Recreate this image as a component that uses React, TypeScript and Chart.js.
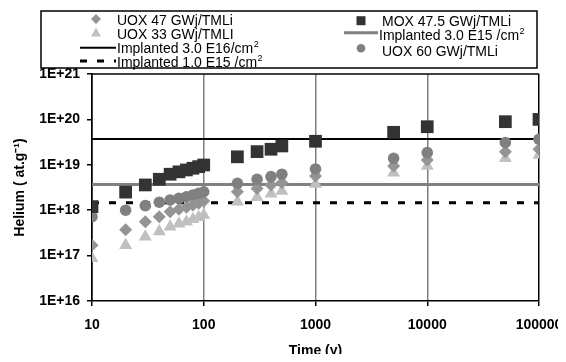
import React, { useEffect, useRef } from 'react';
import { Chart, registerables } from 'chart.js';

Chart.register(...registerables);

// ---- data ----
const times = [10, 20, 30, 40, 50, 60, 70, 80, 90, 100, 200, 300, 400, 500, 1000, 5000, 10000, 50000, 100000];
const uox47 = [1.7e17, 3.7e17, 5.6e17, 7.2e17, 9.3e17, 1.05e18, 1.16e18, 1.3e18, 1.42e18, 1.6e18, 2.55e18, 3.0e18, 3.6e18, 4.0e18, 5.7e18, 9.4e18, 1.28e19, 1.95e19, 2.2e19];
const uox33 = [8.7e16, 1.7e17, 2.6e17, 3.4e17, 4.3e17, 5.0e17, 5.6e17, 6.3e17, 7.0e17, 7.8e17, 1.54e18, 1.92e18, 2.3e18, 2.65e18, 3.8e18, 6.7e18, 9.4e18, 1.39e19, 1.64e19];
const mox475 = [1.2e18, 2.5e18, 3.6e18, 4.8e18, 6.2e18, 7.0e18, 7.7e18, 8.4e18, 9.1e18, 9.9e18, 1.5e19, 1.95e19, 2.2e19, 2.6e19, 3.3e19, 5.2e19, 6.9e19, 8.9e19, 1.0e20];
const uox60 = [7.2e17, 1.0e18, 1.26e18, 1.5e18, 1.68e18, 1.83e18, 1.98e18, 2.16e18, 2.36e18, 2.55e18, 3.9e18, 4.8e18, 5.5e18, 6.2e18, 8.1e18, 1.39e19, 1.85e19, 3.1e19, 3.65e19];
const implanted30E16 = 3.7e19;
const implanted30E15 = 3.7e18;
const implanted10E15 = 1.45e18;
const lineSpan = [10, 100000];
const xTickValues = [10, 100, 1000, 10000, 100000];
const yTickExponents = [16, 17, 18, 19, 20, 21];

const FONT = "'Liberation Sans', Arial, Helvetica, sans-serif";

const pts = (vals: number[]) => times.map((t, i) => ({ x: t, y: vals[i] }));
const hline = (v: number) => lineSpan.map((t) => ({ x: t, y: v }));

// legend layout: [datasetIndex, markerX, markerY, textX, textBaseline]
const legendLayout: Array<[number, number, number, number, number]> = [
  [2, 96, 19, 117, 25],
  [3, 96, 33, 117, 39],
  [4, 98, 47.7, 117, 53],
  [6, 98, 61, 117, 66.5],
  [0, 361, 20.7, 382, 26],
  [5, 361, 32.7, 379, 39.5],
  [1, 361, 48.3, 382, 55.5],
];

function drawMarker(ctx: CanvasRenderingContext2D, style: string, x: number, y: number, color: string) {
  ctx.fillStyle = color;
  ctx.beginPath();
  if (style === 'rect') {
    ctx.rect(x - 4.5, y - 4.5, 9, 9);
  } else if (style === 'circle') {
    ctx.arc(x, y, 4.3, 0, Math.PI * 2);
  } else if (style === 'rectRot') {
    ctx.moveTo(x, y - 5);
    ctx.lineTo(x + 5, y);
    ctx.lineTo(x, y + 5);
    ctx.lineTo(x - 5, y);
    ctx.closePath();
  } else if (style === 'triangle') {
    ctx.moveTo(x, y - 5.5);
    ctx.lineTo(x + 5, y + 3.5);
    ctx.lineTo(x - 5, y + 3.5);
    ctx.closePath();
  }
  ctx.fill();
}

function drawLabel(ctx: CanvasRenderingContext2D, text: string, x: number, y: number) {
  ctx.fillStyle = '#000';
  ctx.textBaseline = 'alphabetic';
  ctx.textAlign = 'left';
  if (text.endsWith('²')) {
    const main = text.slice(0, -1);
    ctx.font = `14px ${FONT}`;
    ctx.fillText(main, x, y);
    const w = ctx.measureText(main).width;
    ctx.font = `9px ${FONT}`;
    ctx.fillText('2', x + w + 0.5, y - 6);
  } else {
    ctx.font = `14px ${FONT}`;
    ctx.fillText(text, x, y);
  }
}

const boxLegendPlugin = {
  id: 'boxLegend',
  afterDraw(chart: any) {
    const ctx: CanvasRenderingContext2D = chart.ctx;
    const { left, right, top } = chart.chartArea;
    ctx.save();
    // top border of plot area
    ctx.strokeStyle = '#000';
    ctx.lineWidth = 1.5;
    ctx.beginPath();
    ctx.moveTo(left, top);
    ctx.lineTo(right, top);
    ctx.stroke();
    // legend box
    ctx.strokeRect(41, 11, 496, 57);
    for (const [di, mx, my, tx, ty] of legendLayout) {
      const ds = chart.data.datasets[di];
      if (ds.showLine) {
        ctx.strokeStyle = ds.borderColor;
        ctx.lineWidth = ds.borderWidth;
        ctx.setLineDash(ds.borderDash || []);
        ctx.beginPath();
        const half = di === 5 ? 17 : 18;
        ctx.moveTo(mx - half, my);
        ctx.lineTo(mx + half, my);
        ctx.stroke();
        ctx.setLineDash([]);
      } else {
        drawMarker(ctx, ds.pointStyle, mx, my, ds.backgroundColor);
      }
      drawLabel(ctx, ds.label, tx, ty);
    }
    ctx.restore();
  },
};

export default function App() {
  const ref = useRef<HTMLCanvasElement>(null);

  useEffect(() => {
    Chart.defaults.font.family = FONT;
    const chart = new Chart(ref.current as HTMLCanvasElement, {
      type: 'scatter',
      data: {
        datasets: [
          {
            label: 'MOX 47.5 GWj/TMLi',
            data: pts(mox475),
            pointStyle: 'rect',
            pointRadius: 9,
            backgroundColor: '#333333',
            borderColor: '#333333',
            borderWidth: 0,
            showLine: false,
          },
          {
            label: 'UOX 60 GWj/TMLi',
            data: pts(uox60),
            pointStyle: 'circle',
            pointRadius: 5.8,
            backgroundColor: '#808080',
            borderColor: '#808080',
            borderWidth: 0,
            showLine: false,
          },
          {
            label: 'UOX 47 GWj/TMLi',
            data: pts(uox47),
            pointStyle: 'rectRot',
            pointRadius: 6.5,
            backgroundColor: '#949494',
            borderColor: '#949494',
            borderWidth: 0,
            showLine: false,
          },
          {
            label: 'UOX 33 GWj/TMLI',
            data: pts(uox33),
            pointStyle: 'triangle',
            pointRadius: 7.5,
            backgroundColor: '#c0c0c0',
            borderColor: '#c0c0c0',
            borderWidth: 0,
            showLine: false,
          },
          {
            label: 'Implanted 3.0 E16/cm²',
            data: hline(implanted30E16),
            showLine: true,
            pointRadius: 0,
            borderColor: '#000000',
            backgroundColor: '#000000',
            borderWidth: 2,
          },
          {
            label: 'Implanted 3.0 E15 /cm²',
            data: hline(implanted30E15),
            showLine: true,
            pointRadius: 0,
            borderColor: '#808080',
            backgroundColor: '#808080',
            borderWidth: 3,
          },
          {
            label: 'Implanted 1.0 E15 /cm²',
            data: hline(implanted10E15),
            showLine: true,
            pointRadius: 0,
            borderColor: '#000000',
            backgroundColor: '#000000',
            borderWidth: 3,
            borderDash: [7, 10],
          },
        ] as any,
      },
      options: {
        animation: false,
        responsive: false,
        devicePixelRatio: 1,
        events: [],
        layout: { padding: { top: 74, right: 27, bottom: 0, left: 0 } },
        plugins: {
          legend: { display: false },
          tooltip: { enabled: false },
        },
        scales: {
          x: {
            type: 'logarithmic',
            position: 'bottom',
            min: 10,
            max: 100000,
            afterBuildTicks: (s: any) => {
              s.ticks = xTickValues.map((v) => ({ value: v }));
            },
            afterFit: (s: any) => {
              s.height = 61;
              s.paddingLeft = 0;
              s.paddingRight = 0;
            },
            ticks: {
              callback: (v: any) => String(v),
              font: { size: 14, weight: 'bold' },
              color: '#000',
              padding: 11,
              maxRotation: 0,
              autoSkip: false,
            },
            grid: {
              color: (c: any) =>
                c.tick && (c.tick.value === 10 || c.tick.value === 100000) ? '#000' : '#808080',
              lineWidth: 1.5,
              tickLength: 5,
              tickColor: '#000',
            },
            border: { color: '#000', width: 1.5 },
            title: {
              display: true,
              text: 'Time (y)',
              font: { size: 14, weight: 'bold' },
              color: '#000',
              padding: { top: 0, bottom: 2 },
            },
          },
          y: {
            type: 'logarithmic',
            min: 1e16,
            max: 1e21,
            afterBuildTicks: (s: any) => {
              s.ticks = yTickExponents.map((e) => ({ value: Math.pow(10, e) }));
            },
            afterFit: (s: any) => {
              s.width = 92;
              s.paddingTop = 0;
              s.paddingBottom = 0;
            },
            ticks: {
              callback: (v: any) => '1E+' + Math.round(Math.log10(v)),
              font: { size: 14, weight: 'bold' },
              color: '#000',
              padding: 7,
              autoSkip: false,
            },
            grid: {
              drawOnChartArea: false,
              tickLength: 5,
              color: '#000',
              lineWidth: 1.5,
            },
            border: { color: '#000', width: 1.5 },
            title: {
              display: true,
              text: 'Helium ( at.g⁻¹)',
              font: { size: 14, weight: 'bold' },
              color: '#000',
              padding: { top: 12, bottom: 0 },
            },
          },
        },
      } as any,
      plugins: [boxLegendPlugin],
    });
    return () => chart.destroy();
  }, []);

  return (
    <div style={{ margin: '-8px', width: 566, height: 362 }}>
      <canvas ref={ref} width={566} height={362} style={{ display: 'block' }} />
    </div>
  );
}
